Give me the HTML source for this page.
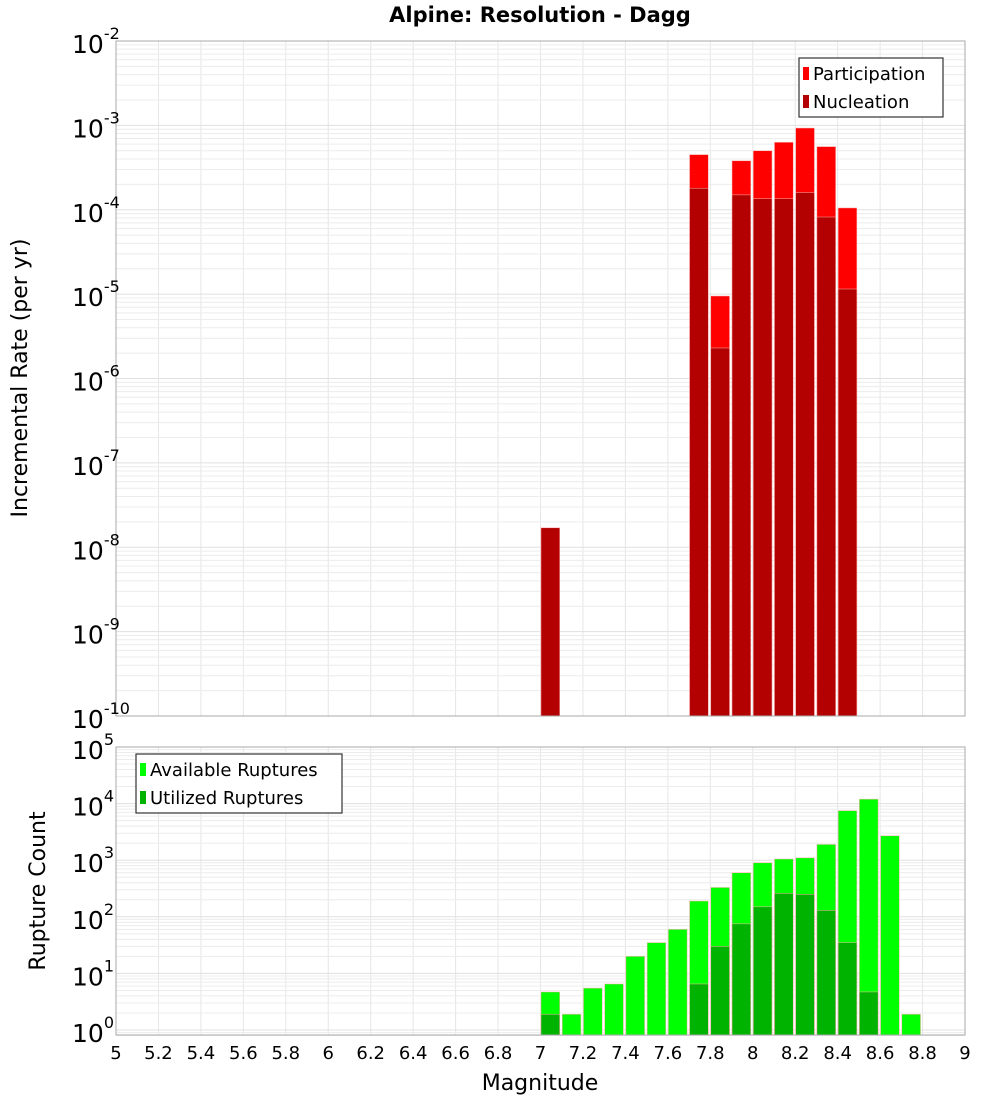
<!DOCTYPE html>
<html><head><meta charset="utf-8"><style>
body{margin:0;background:#fff;font-family:"DejaVu Sans","Liberation Sans",sans-serif}
</style></head><body>
<svg id="c" width="1000" height="1100" xmlns="http://www.w3.org/2000/svg" font-family="DejaVu Sans, Liberation Sans, sans-serif"></svg>
<script>
const mags=[7.0,7.1,7.2,7.3,7.4,7.5,7.6,7.7,7.8,7.9,8.0,8.1,8.2,8.3,8.4,8.5,8.6,8.7];
const participation=[1.7e-8,0,0,0,0,0,0,4.5e-4,9.5e-6,3.8e-4,5.0e-4,6.3e-4,9.3e-4,5.6e-4,1.05e-4,0,0,0];
const nucleation=[1.7e-8,0,0,0,0,0,0,1.8e-4,2.3e-6,1.5e-4,1.35e-4,1.35e-4,1.6e-4,8.2e-5,1.15e-5,0,0,0];
const available=[4.7,1.9,5.5,6.5,20,35,60,190,330,600,900,1050,1100,1900,7500,12000,2700,1.9];
const utilized=[1.9,0,0,0,0,0,0,6.5,30,75,150,260,250,130,35,4.7,0,0];
const xTicks=["5","5.2","5.4","5.6","5.8","6","6.2","6.4","6.6","6.8","7","7.2","7.4","7.6","7.8","8","8.2","8.4","8.6","8.8","9"];
const topExp=[-2,-3,-4,-5,-6,-7,-8,-9,-10];
const botExp=[5,4,3,2,1,0];

const svg=document.getElementById('c');
const NS='http://www.w3.org/2000/svg';
function el(t,a,p){const e=document.createElementNS(NS,t);for(const k in a)e.setAttribute(k,a[k]);(p||svg).appendChild(e);return e;}
const X0=116,X1=965;
const xs=m=>X0+(m-5)*(X1-X0)/4;
const T={top:41,bot:716,lo:-10,hi:-2};
const B={top:747,bot:1035,y0:1030,dec:56.6};
const yT=v=>T.top+(T.hi-Math.log10(v))*(T.bot-T.top)/(T.hi-T.lo);
const yB=v=>B.y0-Math.log10(v)*B.dec;

function grid(P,yf,dmin,dmax){
  const g=el('g',{});
  
  
  for(let i=0;i<=20;i++){const x=xs(5+i*0.2);el('line',{x1:x,x2:x,y1:P.top,y2:P.bot,stroke:'#e6e6e6'},g);}
  for(let d=dmin;d<=dmax;d++)for(let k=1;k<10;k++){const y=yf(k*Math.pow(10,d));if(y<P.top-0.5||y>P.bot+0.5)continue;el('line',{x1:X0,x2:X1,y1:y,y2:y,stroke:k==1?'#e0e0e0':'#ececec'},g);}
}
// title
const t=el('text',{x:540,y:22,'text-anchor':'middle','font-size':21,'font-weight':'bold'});t.textContent='Alpine: Resolution - Dagg';


grid(T,yT,-10,-3);
grid({top:B.top,bot:B.bot},yB,-1,4);

function bars(arr,yf,base,color,name){
  arr.forEach((v,i)=>{if(!v)return;const x=xs(mags[i]);const y=yf(v);
    const r=el('rect',{x:x+0.5,y:y,width:xs(mags[i]+0.1)-x-2.5,height:base-y,fill:color,stroke:'#ffb0b0','stroke-width':0.5});
    
    });
}
bars(participation,yT,T.bot,'#ff0000','participation');
bars(nucleation,yT,T.bot,'#b30000','nucleation');
bars(available,yB,B.bot,'#00ff00','available');
bars(utilized,yB,B.bot,'#00b300','utilized');

const f1=el('rect',{x:X0,y:T.top,width:X1-X0,height:T.bot-T.top,fill:'none',stroke:'#aaa'});

const f2=el('rect',{x:X0,y:B.top,width:X1-X0,height:B.bot-B.top,fill:'none',stroke:'#aaa'});


// y tick labels
topExp.forEach(e=>{const y=yT(Math.pow(10,e));const tx=el('text',{x:72,y:y+12,'font-size':25});
  
  tx.innerHTML='10<tspan dy="-14" font-size="16">'+e+'</tspan>';});
botExp.forEach(e=>{const y=yB(Math.pow(10,e));const tx=el('text',{x:72,y:y+12,'font-size':25});
  
  tx.innerHTML='10<tspan dy="-14" font-size="16">'+e+'</tspan>';});
xTicks.forEach(s=>{const tx=el('text',{x:xs(parseFloat(s)),y:1059,'text-anchor':'middle','font-size':18});
  tx.textContent=s;});

const xt=el('text',{x:540,y:1090,'text-anchor':'middle','font-size':22});xt.textContent='Magnitude';

const y1=el('text',{x:0,y:0,'text-anchor':'middle','font-size':22,transform:'translate(27,378) rotate(-90)'});y1.textContent='Incremental Rate (per yr)';

const y2=el('text',{x:0,y:0,'text-anchor':'middle','font-size':22,transform:'translate(45,891) rotate(-90)'});y2.textContent='Rupture Count';


function legend(x,y,w,items,name){
  const g=el('g',{});
  el('rect',{x:x,y:y,width:w,height:59,fill:'#fff',stroke:'#333','stroke-width':1.2},g);
  items.forEach((it,i)=>{el('rect',{x:x+4,y:y+9+i*28,width:6,height:13,fill:it[1]},g);
    const tx=el('text',{x:x+14,y:y+22+i*28,'font-size':18},g);tx.textContent=it[0];});
}
legend(799,58,144,[['Participation','#ff0000'],['Nucleation','#b30000']],'top-legend');
legend(136,754,206,[['Available Ruptures','#00ff00'],['Utilized Ruptures','#00b300']],'bottom-legend');
</script>
</body></html>
